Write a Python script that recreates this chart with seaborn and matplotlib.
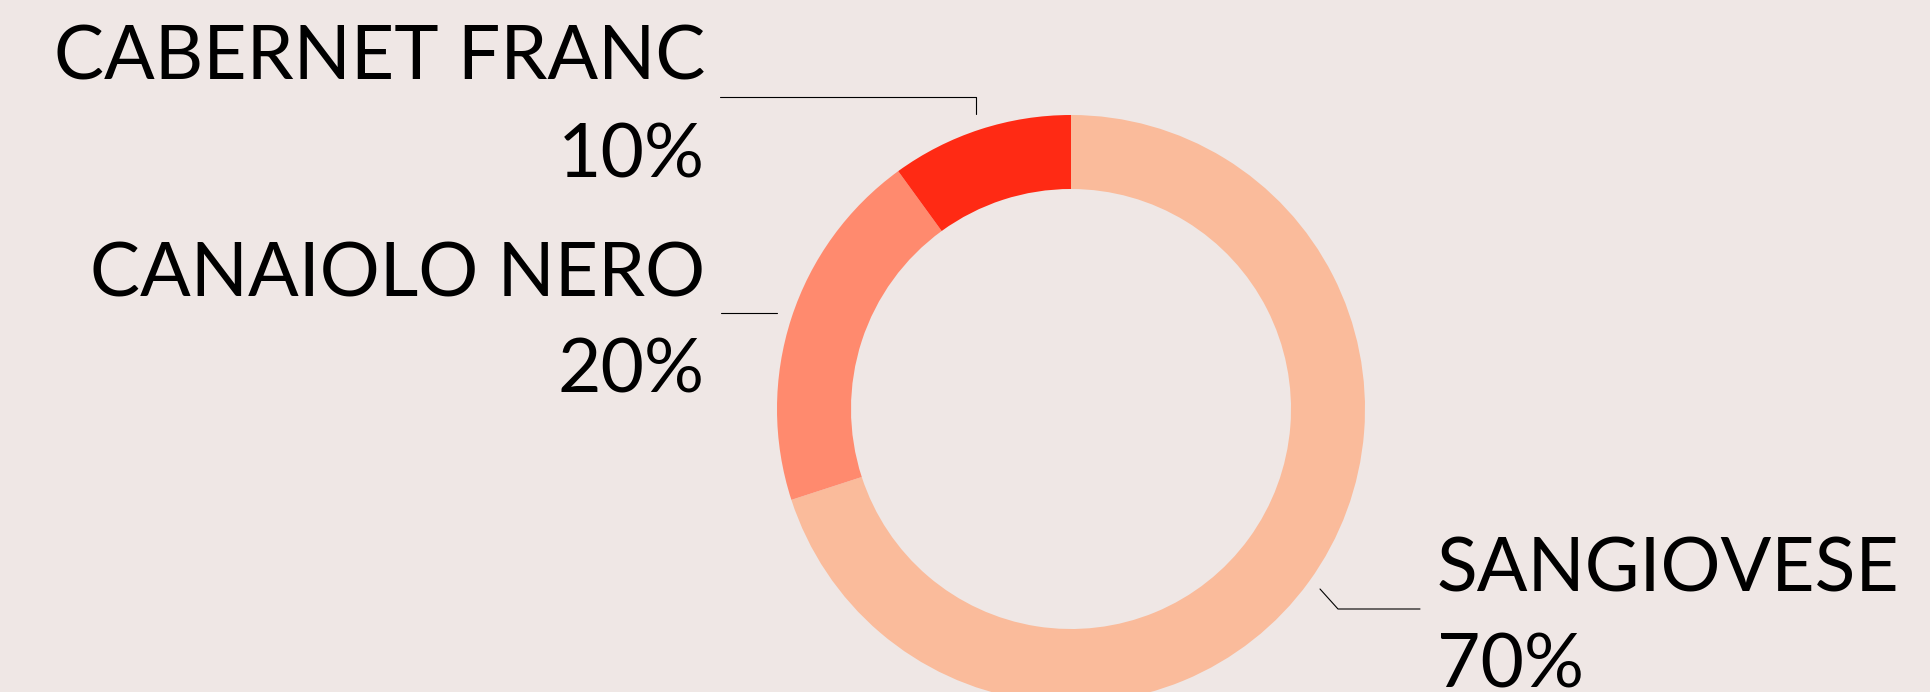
import matplotlib
matplotlib.use("Agg")
import matplotlib.pyplot as plt
import seaborn as sns

# blend shares, drawn clockwise from 12 o'clock
grapes = ["SANGIOVESE", "CANAIOLO NERO", "CABERNET FRANC"]
shares = [70, 20, 10]
share_labels = ["70%", "20%", "10%"]
colors = ["#FABB9B", "#FF8A6E", "#FF2A14"]

bg = "#EFE7E5"

sns.set_theme(style="white")
plt.rcParams["font.family"] = ["Lato", "DejaVu Sans"]

W, H = 1931, 692
fig = plt.figure(figsize=(W / 100, H / 100), dpi=100, facecolor=bg)
ax = fig.add_axes([0, 0, 1, 1])
ax.set_facecolor(bg)

# work in pixel units, y upwards
cx, cy, r = 1071, H - 409, 294
ax.pie(shares, colors=colors, startangle=90, counterclock=False,
       center=(cx, cy), radius=r, frame=True,
       wedgeprops=dict(width=74, linewidth=0))
ax.set_xlim(0, W)
ax.set_ylim(0, H)
ax.set_aspect("equal")
ax.axis("off")

fs = 54
txt = dict(fontsize=fs, color="black", va="baseline")

# CABERNET FRANC (top left)
ax.text(705, H - 79, grapes[2], ha="right", **txt)
ax.text(705, H - 177, share_labels[2], ha="right", **txt)
ax.plot([720, 976, 976], [H - 97, H - 97, H - 114], color="black", lw=0.8)

# CANAIOLO NERO (left)
ax.text(705, H - 297, grapes[1], ha="right", **txt)
ax.text(705, H - 393, share_labels[1], ha="right", **txt)
ax.plot([721, 777], [H - 313, H - 313], color="black", lw=0.8)

# SANGIOVESE (bottom right)
ax.text(1437, H - 592, grapes[0], ha="left", **txt)
ax.text(1437, H - 687, share_labels[0], ha="left", **txt)
ax.plot([1320, 1338, 1420], [H - 589, H - 609, H - 609], color="black", lw=0.8)

fig.savefig("out.png", dpi=100, facecolor=bg)
